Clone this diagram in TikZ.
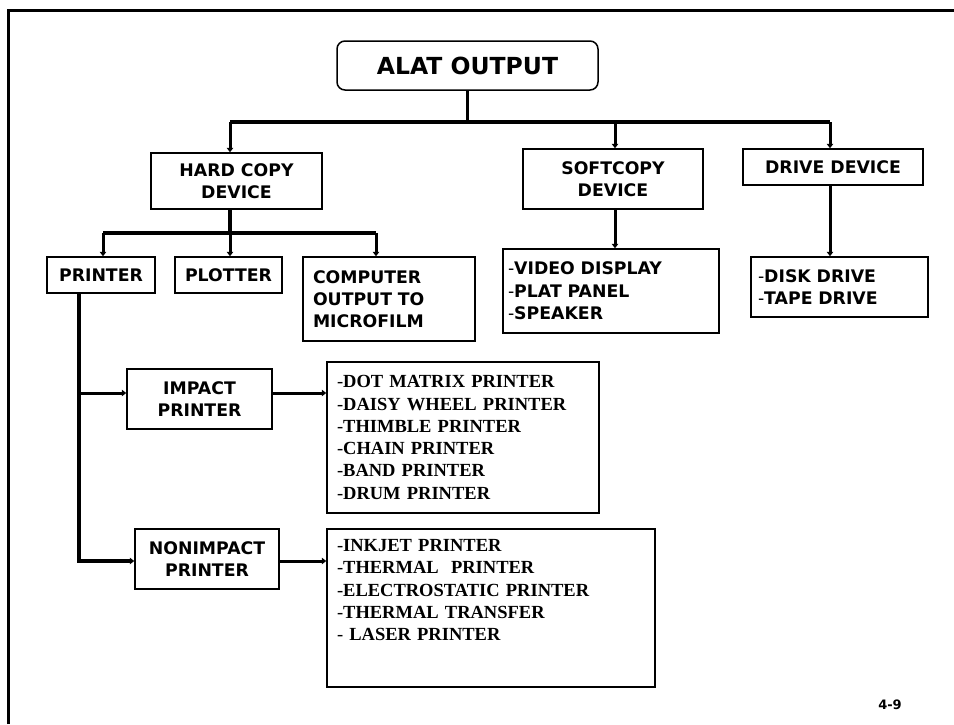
\documentclass[tikz,border=0pt]{standalone}
\usepackage{fontspec}
\setmainfont{Liberation Serif}
\newfontfamily\vfont{DejaVu Sans}
\usetikzlibrary{arrows.meta}
\newcommand\lhy{{\mdseries -}}
\tikzset{
  box/.style={draw=black, line width=1.5pt, inner sep=0pt, align=center,
    font=\vfont\bfseries\fontsize{17.3}{22}\selectfont},
  rbox/.style={box, rounded corners=8pt, font=\vfont\bfseries\fontsize{23.5}{28}\selectfont},
  sanslist/.style={box, align=left, font=\vfont\bfseries\fontsize{17.3}{22.5}\selectfont},
  seriflist/.style={box, align=left, font=\rmfamily\bfseries\fontsize{18.5}{22.3}\selectfont},
  barline/.style={line width=3.8pt},
  arr/.style={line width=3pt, -{Triangle[length=4.5pt,width=6.5pt]}},
  frameline/.style={line width=3pt},
}
\begin{document}
\begin{tikzpicture}[x=1pt,y=-1pt]
\useasboundingbox (0,0) rectangle (954,724);
\draw[frameline] (8,724) -- (8,10) -- (954,10);

\node[rbox, minimum width=261pt, minimum height=49pt] (alat) at (467.5,65.5) {ALAT OUTPUT};

\node[box, minimum width=171pt, minimum height=56pt] (hard) at (236.5,181) {HARD COPY\\DEVICE};
\node[box, minimum width=180pt, minimum height=60pt] (soft) at (613,179) {SOFTCOPY\\DEVICE};
\node[box, minimum width=180pt, minimum height=36pt] (drive) at (833,167) {DRIVE DEVICE};

\node[box, minimum width=108pt, minimum height=36pt] (printer) at (101,275) {PRINTER};
\node[box, minimum width=107pt, minimum height=36pt] (plotter) at (228.5,275) {PLOTTER};
\node[box, align=left, text width=152pt, minimum width=172pt, minimum height=84pt] (cofm) at (389,299) {COMPUTER\\OUTPUT TO\\MICROFILM};

\node[sanslist, text width=206pt, minimum width=216pt, minimum height=84pt] (softlist) at (611,291)
  {\lhy VIDEO DISPLAY\\\lhy PLAT PANEL\\\lhy SPEAKER};
\node[sanslist, text width=163pt, minimum width=177pt, minimum height=60pt] (drivelist) at (839.5,287)
  {\lhy DISK DRIVE\\\lhy TAPE DRIVE};

\node[box, minimum width=145pt, minimum height=60pt] (impact) at (199.5,399) {IMPACT\\PRINTER};
\node[seriflist, text width=252pt, minimum width=272pt, minimum height=151pt] (implist) at (463,437.5)
  {\lhy DOT MATRIX PRINTER\\\lhy DAISY WHEEL PRINTER\\\lhy THIMBLE PRINTER\\\lhy CHAIN PRINTER\\\lhy BAND PRINTER\\\lhy DRUM PRINTER};

\node[box, minimum width=144pt, minimum height=60pt] (nonimpact) at (207,559) {NONIMPACT\\PRINTER};
\node[seriflist, text width=308pt, minimum width=328pt, minimum height=158pt] (nonlist) at (491,608)
  {\lhy INKJET PRINTER\\\lhy THERMAL\ \ PRINTER\\\lhy ELECTROSTATIC PRINTER\\\lhy THERMAL TRANSFER\\\lhy\ LASER PRINTER\\[13.5pt]~};

\node[font=\vfont\bfseries\fontsize{13}{15}\selectfont] (pg) at (890,705) {4-9};

% top level connectors
\coordinate (b1L) at (230,122);
\coordinate (b1S) at (615,122);
\coordinate (b1R) at (830,122);
\draw[barline] (alat.south) -- (alat.south |- b1L);
\draw[barline] (b1L) -- (b1R);
\draw[arr] (b1L) -- (b1L |- hard.north);
\draw[arr] (b1S) -- (b1S |- soft.north);
\draw[arr] (b1R) -- (b1R |- drive.north);

% hard copy branches
\coordinate (b2L) at (103,233);
\coordinate (b2M) at (230,233);
\coordinate (b2R) at (376,233);
\draw[barline] (b2M |- hard.south) -- (b2M);
\draw[barline] (b2L) -- (b2R);
\draw[arr] (b2L) -- (b2L |- printer.north);
\draw[arr] (b2M) -- (b2M |- plotter.north);
\draw[arr] (b2R) -- (b2R |- cofm.north);

% softcopy and drive lists
\draw[arr] (b1S |- soft.south) -- (b1S |- softlist.north);
\draw[arr] (b1R |- drive.south) -- (b1R |- drivelist.north);

% printer trunk
\coordinate (trunk) at (79,0);
\coordinate (ia) at (0,393);
\coordinate (na) at (0,561);
\draw[arr, line width=3.5pt] (trunk |- printer.south) |- (nonimpact.west |- na);
\draw[arr] (trunk |- ia) -- (impact.west |- ia);
\draw[arr] (impact.east |- ia) -- (implist.west |- ia);
\draw[arr] (nonimpact.east |- na) -- (nonlist.west |- na);
\end{tikzpicture}
\end{document}
